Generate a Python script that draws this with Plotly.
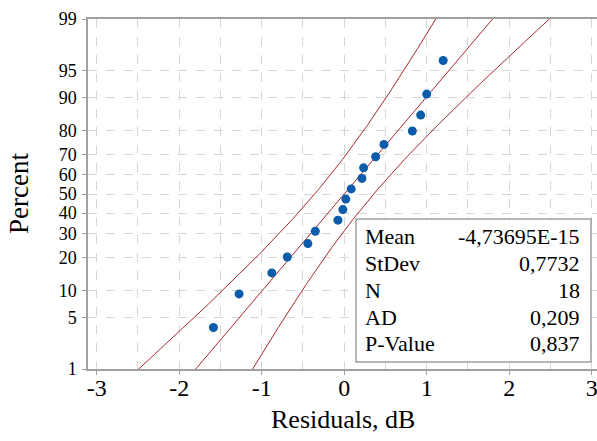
import math
import plotly.graph_objects as go

# ---- data ----
residuals = [-1.585, -1.274, -0.877, -0.69, -0.44, -0.35, -0.076, -0.016, 0.02,
             0.085, 0.215, 0.235, 0.381, 0.482, 0.826, 0.927, 1.00, 1.20]
percents = [3.8, 9.2, 14.7, 20.1, 25.5, 31.0, 36.4, 41.8, 47.3,
            52.7, 58.2, 63.6, 69.0, 74.5, 79.9, 85.3, 90.8, 96.2]
y_tick_labels = [1, 5, 10, 20, 30, 40, 50, 60, 70, 80, 90, 95, 99]
x_tick_labels = [-3, -2, -1, 0, 1, 2, 3]
stat_names = ["Mean", "StDev", "N", "AD", "P-Value"]
stat_values = ["-4,73695E-15", "0,7732", "18", "0,209", "0,837"]
mean = -4.73695e-15
stdev = 0.7732
n = 18


def norm_ppf(p):
    lo, hi = -10.0, 10.0
    for _ in range(200):
        mid = (lo + hi) / 2
        if 0.5 * (1 + math.erf(mid / math.sqrt(2))) < p:
            lo = mid
        else:
            hi = mid
    return (lo + hi) / 2


z_pts = [norm_ppf(p / 100) for p in percents]
z_ticks = [norm_ppf(p / 100) for p in y_tick_labels]

# fitted line and 95% confidence bands
zs = [-2.6 + i * 0.02 for i in range(261)]
fit = [mean + stdev * z for z in zs]
half = [1.96 * stdev * math.sqrt(1 / n + z * z / (2 * n)) for z in zs]
lower = [f - h for f, h in zip(fit, half)]
upper = [f + h for f, h in zip(fit, half)]

RED = "#A8292E"
BLUE = "#0B5CAB"
FONT = "Liberation Serif"

fig = go.Figure()
for xs in (lower, fit, upper):
    fig.add_trace(go.Scatter(x=xs, y=zs, mode="lines",
                             line=dict(color=RED, width=1), hoverinfo="skip"))
fig.add_trace(go.Scatter(x=residuals, y=z_pts, mode="markers",
                         marker=dict(color=BLUE, size=9)))

L, T, R, B = 88, 19, 597, 369
W, H = 597, 441
pw, ph = R - L, B - T


def px(xp):
    return (xp - L) / pw


def py(yp):
    return (B - yp) / ph


grid = dict(showgrid=True, gridcolor="#D6D6D6", gridwidth=1, griddash="dash")
fig.update_layout(
    width=W, height=H,
    margin=dict(l=L, r=W - R, t=T, b=H - B, autoexpand=False),
    plot_bgcolor="white", paper_bgcolor="white",
    showlegend=False,
    font=dict(family=FONT, color="black"),
    xaxis=dict(range=[-3.105, 3.064], tickvals=x_tick_labels,
               ticktext=[str(v) for v in x_tick_labels],
               tickfont=dict(size=24, family=FONT),
               ticks="outside", ticklen=4, tickcolor="#A0A0A0",
               ticklabelstandoff=-8,
               showline=True, linecolor="#A0A0A0", linewidth=1.5, mirror=True,
               zeroline=False, automargin=False, ticklabeloverflow="allow",
               minor=dict(dtick=0.5, tick0=0, showgrid=True, gridcolor="#D6D6D6",
                          griddash="dash", gridwidth=1),
               **grid),
    yaxis=dict(range=[z_ticks[0], z_ticks[-1]], tickvals=z_ticks,
               ticktext=[str(v) for v in y_tick_labels],
               tickfont=dict(size=18, family=FONT),
               ticks="outside", ticklen=4, tickcolor="#A0A0A0",
               ticklabelstandoff=2,
               showline=True, linecolor="#A0A0A0", linewidth=1.5,
               zeroline=False, automargin=False, ticklabeloverflow="allow",
               **grid),
)

# stats box
fig.add_shape(type="rect", xref="paper", yref="paper",
              x0=px(356), x1=px(591), y0=py(219), y1=py(362),
              fillcolor="white", line=dict(color="#A0A0A0", width=1.5),
              layer="above")
row_y = [237, 263.7, 290.4, 317.1, 343.8]
for name, val, yy in zip(stat_names, stat_values, row_y):
    fig.add_annotation(text=name, xref="paper", yref="paper", x=px(363),
                       y=py(yy), xanchor="left", yanchor="middle",
                       showarrow=False, font=dict(size=22, family=FONT))
    fig.add_annotation(text=val, xref="paper", yref="paper", x=px(582),
                       y=py(yy), xanchor="right", yanchor="middle",
                       showarrow=False, font=dict(size=22, family=FONT))

# axis titles
fig.add_annotation(text="Percent", xref="paper", yref="paper", x=px(19),
                   y=py(194), textangle=-90, xanchor="center", yanchor="middle",
                   showarrow=False, font=dict(size=27, family=FONT))
fig.add_annotation(text="Residuals, dB", xref="paper", yref="paper", x=px(343),
                   y=py(419), xanchor="center", yanchor="middle",
                   showarrow=False, font=dict(size=26, family=FONT))

fig.write_html("out.html", config={"displayModeBar": False},
               post_script="document.body.style.margin='0';"
                           "document.body.style.padding='0';")
